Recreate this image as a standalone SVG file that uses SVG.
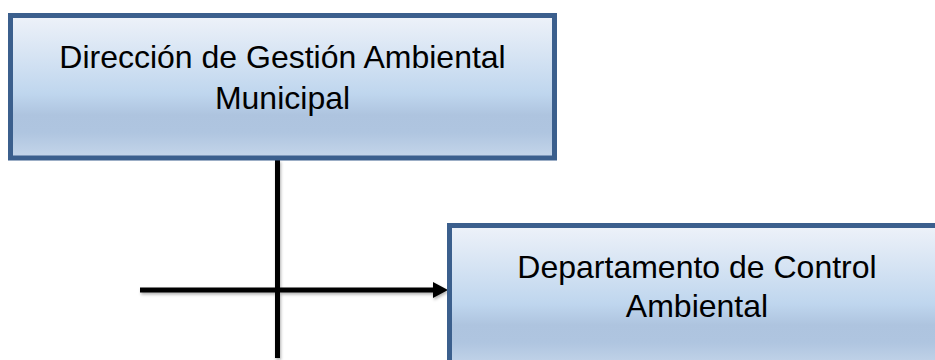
<svg xmlns="http://www.w3.org/2000/svg" width="935" height="360" viewBox="0 0 935 360">
  <defs>
    <linearGradient id="boxFill" x1="0" y1="0" x2="0" y2="1">
      <stop offset="0" stop-color="#EEF2F9"/>
      <stop offset="0.55" stop-color="#BFD6EE"/>
      <stop offset="0.7" stop-color="#AEC4DF"/>
      <stop offset="0.82" stop-color="#AFC5E0"/>
      <stop offset="1" stop-color="#C5D6EA"/>
    </linearGradient>
    <filter id="lineShadow" x="-10%" y="-10%" width="120%" height="120%">
      <feDropShadow dx="1" dy="2" stdDeviation="1.5" flood-color="#000" flood-opacity="0.3"/>
    </filter>
    <marker id="arrow" markerUnits="userSpaceOnUse" markerWidth="16" markerHeight="16" refX="3" refY="8" orient="auto">
      <path d="M0,0 L15,8 L0,16 Z" fill="#000"/>
    </marker>
  </defs>
  <style>
    .box { fill: url(#boxFill); stroke: #3B5F8D; stroke-width: 5; }
    .label { font-family: "Liberation Sans", Arial, sans-serif; font-size: 32px; fill: #000; text-anchor: middle; }
    .conn { stroke: #000; stroke-width: 5; fill: none; }
  </style>
  <g id="connectors" filter="url(#lineShadow)">
    <line class="conn" x1="277.5" y1="160" x2="277.5" y2="358"/>
    <line class="conn" x1="140" y1="290" x2="436" y2="290" marker-end="url(#arrow)"/>
  </g>
  <g id="node-direccion">
    <rect class="box" x="10.5" y="15.5" width="544" height="142.5"/>
    <text class="label" x="282.5" y="68">Dirección de Gestión Ambiental</text>
    <text class="label" x="282.5" y="109">Municipal</text>
  </g>
  <g id="node-departamento">
    <rect class="box" x="449.5" y="225.5" width="495" height="142.5"/>
    <text class="label" x="697" y="278">Departamento de Control</text>
    <text class="label" x="697" y="317">Ambiental</text>
  </g>
</svg>
